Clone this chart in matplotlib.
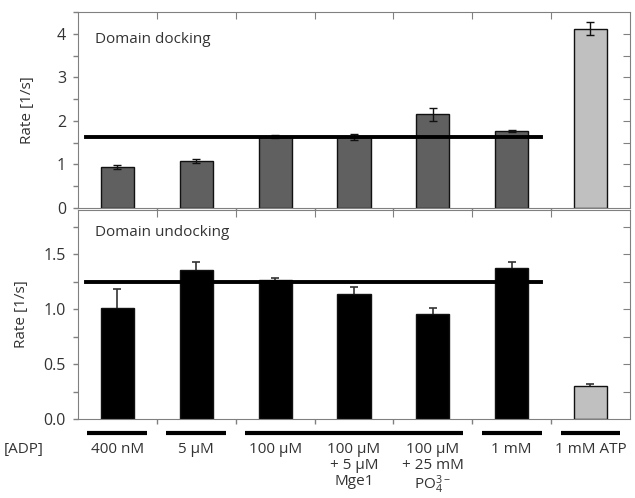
import numpy as np
import matplotlib
matplotlib.use("Agg")
import matplotlib.pyplot as plt
import matplotlib.transforms as mtransforms

plt.rcParams['font.family'] = ['Open Sans', 'DejaVu Sans']
plt.rcParams['mathtext.default'] = 'regular'
plt.rcParams['font.size'] = 11

conditions = ["400 nM", "5 µM", "100 µM", "100 µM\n+ 5 µM\nMge1",
              "100 µM\n+ 25 mM\nPO$_4^{3-}$", "1 mM", "1 mM ATP"]
docking = [0.94, 1.08, 1.64, 1.63, 2.15, 1.77, 4.12]
docking_err = [0.05, 0.04, 0.03, 0.06, 0.15, 0.03, 0.15]
undocking = [1.01, 1.355, 1.26, 1.135, 0.955, 1.37, 0.30]
undocking_err = [0.17, 0.07, 0.02, 0.065, 0.055, 0.06, 0.02]
docking_ref = 1.63
undocking_ref = 1.25
# groups of conditions sharing one [ADP] bar below the axis
adp_groups = [(0, 0), (1, 1), (2, 4), (5, 5), (6, 6)]

x = np.arange(len(conditions))
spine_c = '#808080'
text_c = '#333333'

fig = plt.figure(figsize=(6.35, 4.98), dpi=100)
ax1 = fig.add_axes([0.1228, 0.5823, 0.8692, 0.3936])
ax2 = fig.add_axes([0.1228, 0.1586, 0.8692, 0.4197])


def style(ax, ymax, major, minor, fmt, label_x):
    ax.set_xlim(-0.5, 6.5)
    ax.set_ylim(0, ymax)
    ax.set_xticks(np.arange(0.5, 6, 1))
    ax.set_xticklabels([])
    ax.set_yticks(np.arange(0, ymax + 1e-9, major))
    ax.set_yticks(np.arange(0, ymax + 1e-9, minor), minor=True)
    ax.yaxis.set_major_formatter(matplotlib.ticker.FormatStrFormatter(fmt))
    for s in ax.spines.values():
        s.set_color(spine_c)
    ax.tick_params(axis='both', which='both', direction='out', color=spine_c,
                   labelcolor=text_c, length=3.6, width=1, pad=5, labelsize=11.5)
    top = ax.secondary_xaxis('top')
    top.set_xticks(np.arange(0.5, 6, 1))
    top.set_xticklabels([])
    top.tick_params(direction='in', length=5, color=spine_c)
    top.spines['top'].set_visible(False)
    right = ax.secondary_yaxis('right')
    right.set_yticks(np.arange(minor, ymax, minor))
    right.set_yticklabels([])
    right.tick_params(direction='in', length=5, color=spine_c)
    right.spines['right'].set_visible(False)
    ax.set_ylabel("Rate [1/s]", color=text_c)
    ax.yaxis.set_label_coords(label_x, 0.5)


cols1 = ['#606060'] * 6 + ['#c0c0c0']
ax1.bar(x, docking, width=0.42, color=cols1, edgecolor='#111111', linewidth=1, zorder=2)
ax1.errorbar(x, docking, yerr=docking_err, fmt='none', ecolor='#111111',
             elinewidth=1, capsize=3, capthick=1, zorder=3)
ax1.plot([-0.4, 5.37], [docking_ref, docking_ref], color='black', lw=2.8, zorder=4)
style(ax1, 4.5, 1, 0.5, '%d', -0.078)
ax1.text(0.03, 0.86, "Domain docking", transform=ax1.transAxes, color=text_c,
         ha='left', va='center')

cols2 = ['black'] * 6 + ['#c0c0c0']
ax2.errorbar(x, undocking, yerr=undocking_err, fmt='none', ecolor='#333333',
             elinewidth=1.2, capsize=3, capthick=1.2, zorder=1)
ax2.bar(x, undocking, width=0.42, color=cols2, edgecolor='#111111', linewidth=1, zorder=2)
ax2.plot([-0.4, 5.37], [undocking_ref, undocking_ref], color='black', lw=2.8, zorder=4)
style(ax2, 1.9, 0.5, 0.25, '%.1f', -0.089)
ax2.text(0.03, 0.89, "Domain undocking", transform=ax2.transAxes, color=text_c,
         ha='left', va='center')

# condition labels below the lower panel
trans = mtransforms.blended_transform_factory(ax2.transData, ax2.transAxes)
for a, b in adp_groups:
    ax2.plot([a - 0.38, b + 0.38], [-0.067, -0.067], color='black', lw=3,
             transform=trans, clip_on=False, solid_capstyle='butt')
for xi, lab in zip(x, conditions):
    ax2.text(xi, -0.112, lab, transform=trans, ha='center', va='top',
             color=text_c, linespacing=1.05)
ax2.text(-0.063, -0.112, "[ADP]", transform=ax2.transAxes, ha='right', va='top',
         color=text_c)

fig.savefig("out.png", dpi=100)
